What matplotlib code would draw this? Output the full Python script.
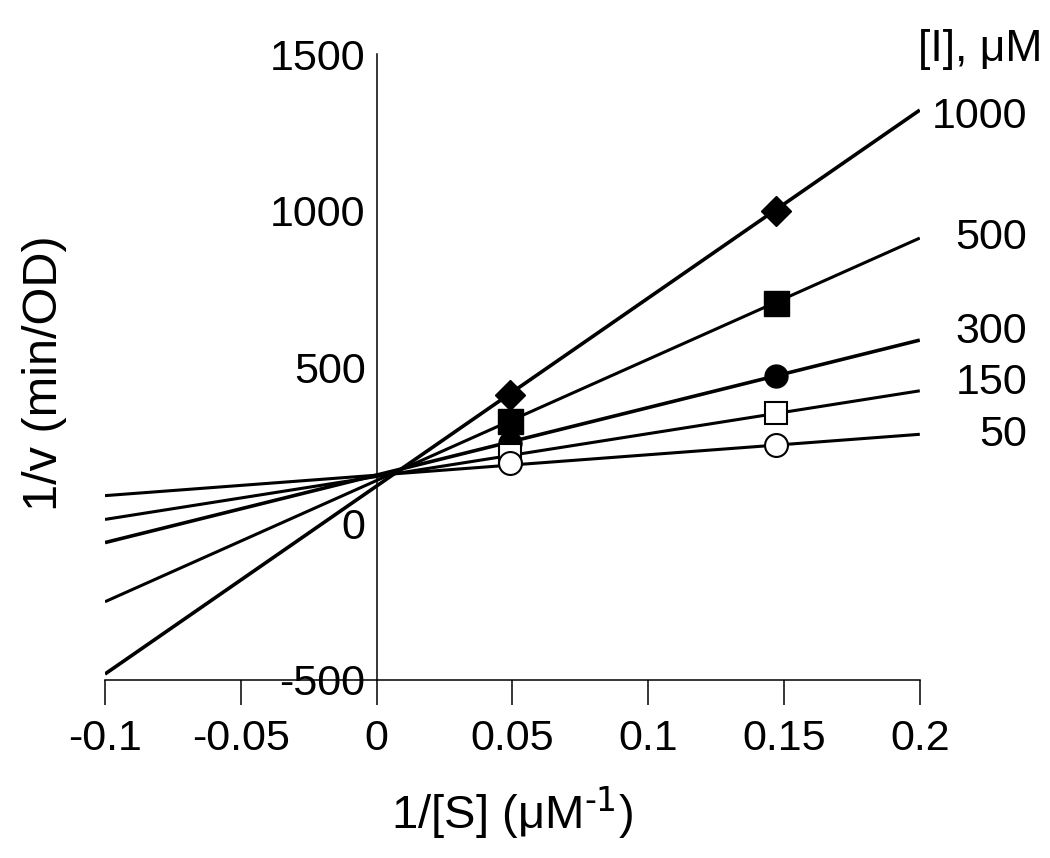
import matplotlib
matplotlib.use("Agg")
from matplotlib import pyplot as plt

plt.rcParams['font.family'] = ['Liberation Sans', 'DejaVu Sans']
plt.rcParams['mathtext.default'] = 'regular'
plt.rcParams['axes.unicode_minus'] = False

# inhibitor concentrations, uM
conc_labels = ["1000", "500", "300", "150", "50"]

# measured points: 1/[S] and 1/v for each [I]
inv_s = [0.049, 0.147]
inv_v = {
    "1000": [412, 998],
    "500": [326, 703],
    "300": [258, 472],
    "150": [220, 352],
    "50": [192, 250],
}

# fitted lines, value at x = -0.1 and at x = 0.2
line_x = [-0.1, 0.2]
line_y = {
    "1000": [-481, 1321],
    "500": [-250, 912],
    "300": [-61, 586],
    "150": [13, 424],
    "50": [89, 285],
}

markers = {
    "1000": dict(marker='D', ms=15, mfc='black', mec='black'),
    "500": dict(marker='s', ms=18, mfc='black', mec='black'),
    "300": dict(marker='o', ms=16.5, mfc='black', mec='black'),
    "150": dict(marker='s', ms=16, mfc='white', mec='black', mew=1.5),
    "50": dict(marker='o', ms=16.5, mfc='white', mec='black', mew=1.5),
}
widths = {"1000": 2.6, "500": 2.2, "300": 2.6, "150": 2.2, "50": 2.2}
label_y = {"1000": 1299, "500": 912, "300": 612, "150": 449, "50": 283}

fig = plt.figure(figsize=(10.5, 8.58), dpi=100)
ax = fig.add_axes([0.1, 0.2075, 0.776, 0.7295])

for c in conc_labels:
    ax.plot(line_x, line_y[c], color='black', lw=widths[c], zorder=2,
            solid_capstyle='butt')
for c in conc_labels:
    ax.plot(inv_s, inv_v[c], ls='none', zorder=3, **markers[c])

ax.set_xlim(-0.1, 0.2)
ax.set_ylim(-500, 1500)

ax.spines['top'].set_visible(False)
ax.spines['right'].set_visible(False)
ax.spines['left'].set_position(('data', 0))
ax.spines['left'].set_linewidth(1.1)
ax.spines['bottom'].set_linewidth(1.1)

ax.set_xticks([-0.1, -0.05, 0, 0.05, 0.1, 0.15, 0.2])
ax.set_xticklabels(["-0.1", "-0.05", "0", "0.05", "0.1", "0.15", "0.2"])
ax.set_yticks([-500, 0, 500, 1000, 1500])
ax.tick_params(axis='x', direction='out', length=18, width=1.1,
               labelsize=31, pad=10)
ax.tick_params(axis='y', length=0, labelsize=31, pad=8)

ax.set_xlabel("1/[S] (μM$^{\\text{-1}}$)", fontsize=34, labelpad=18)
ax.set_ylabel("1/v (min/OD)", fontsize=35)
ax.yaxis.set_label_coords(-0.047, 0.49)

for c in conc_labels:
    ax.text(0.2395, label_y[c], c, ha='right', va='center', fontsize=31,
            clip_on=False)
ax.text(0.2452, 1515, "[I], μM", ha='right', va='center', fontsize=32,
        clip_on=False)

fig.savefig("out.png", dpi=100)
